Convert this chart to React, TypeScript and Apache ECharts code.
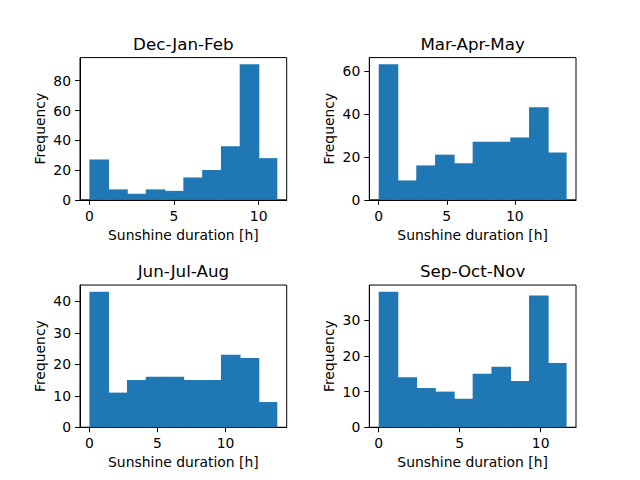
import React, { useEffect, useRef } from "react";
import * as echarts from "echarts";

const titles = ["Dec-Jan-Feb", "Mar-Apr-May", "Jun-Jul-Aug", "Sep-Oct-Nov"];
const djfCounts = [27, 7, 4, 7, 6, 15, 20, 36, 91, 28];
const mamCounts = [63, 9, 16, 21, 17, 27, 27, 29, 43, 22];
const jjaCounts = [43, 11, 15, 16, 16, 15, 15, 23, 22, 8];
const sonCounts = [38, 14, 11, 10, 8, 15, 17, 13, 37, 18];
const djfRange = [0, 11.1];
const mamRange = [0, 13.8];
const jjaRange = [0, 13.8];
const sonRange = [0, 11.6];
const xTicks = [0, 5, 10];
const djfYTicks = [0, 20, 40, 60, 80];
const mamYTicks = [0, 20, 40, 60];
const jjaYTicks = [0, 10, 20, 30, 40];
const sonYTicks = [0, 10, 20, 30];
const xLabel = "Sunshine duration [h]";
const yLabel = "Frequency";

const panels = [
  { counts: djfCounts, range: djfRange, yTicks: djfYTicks },
  { counts: mamCounts, range: mamRange, yTicks: mamYTicks },
  { counts: jjaCounts, range: jjaRange, yTicks: jjaYTicks },
  { counts: sonCounts, range: sonRange, yTicks: sonYTicks },
];

const FONT = "DejaVu Sans";
const BLUE = "#1f77b4";
const gridPos = [
  { left: 80, top: 57.6 },
  { left: 369.3, top: 57.6 },
  { left: 80, top: 285.05 },
  { left: 369.3, top: 285.05 },
];
const GW = 206.7;
const GH = 142.2;

export default function App() {
  const ref = useRef<HTMLDivElement>(null);
  useEffect(() => {
    if (!ref.current) return;
    const chart = echarts.init(ref.current, null, { renderer: "svg" });
    const grid: any[] = [];
    const xAxis: any[] = [];
    const yAxis: any[] = [];
    const series: any[] = [];
    const title: any[] = [];
    panels.forEach((p, i) => {
      const g = gridPos[i];
      grid.push({
        left: g.left,
        top: g.top,
        width: GW,
        height: GH,
        show: true,
        borderColor: "#000",
        borderWidth: 1,
        backgroundColor: "transparent",
        containLabel: false,
        outerBoundsMode: "none",
      });
      const lo = p.range[0];
      const hi = p.range[1];
      const span = hi - lo;
      const nb = p.counts.length;
      const data = p.counts.map((c, k) => [
        lo + (span * k) / nb,
        lo + (span * (k + 1)) / nb,
        c,
        k === nb - 1 ? 0 : 1,
      ]);
      const maxC = Math.max(...p.counts);
      xAxis.push({
        type: "value",
        gridIndex: i,
        min: lo - 0.05 * span,
        max: hi + 0.05 * span,
        splitLine: { show: false },
        axisLine: { show: true, onZero: false, lineStyle: { color: "#000", width: 1 } },
        axisTick: { show: true, length: 5, customValues: xTicks, lineStyle: { color: "#000", width: 1 } },
        axisLabel: {
          customValues: xTicks,
          margin: 9,
          color: "#000",
          fontSize: 13.9,
          fontFamily: FONT,
        },
        name: xLabel,
        nameLocation: "middle",
        nameGap: 28,
        nameTextStyle: { color: "#000", fontSize: 13.9, fontFamily: FONT },
      });
      yAxis.push({
        type: "value",
        gridIndex: i,
        min: 0,
        max: maxC * 1.05,
        splitLine: { show: false },
        axisLine: { show: true, onZero: false, lineStyle: { color: "#000", width: 1 } },
        axisTick: { show: true, length: 5, customValues: p.yTicks, lineStyle: { color: "#000", width: 1 } },
        axisLabel: {
          customValues: p.yTicks,
          margin: 9,
          color: "#000",
          fontSize: 13.9,
          fontFamily: FONT,
        },
        name: yLabel,
        nameLocation: "middle",
        nameGap: 33,
        nameTextStyle: { color: "#000", fontSize: 13.9, fontFamily: FONT },
      });
      series.push({
        type: "custom",
        xAxisIndex: i,
        yAxisIndex: i,
        encode: { x: [0, 1], y: 2 },
        data,
        renderItem: (params: any, api: any) => {
          const p0 = api.coord([api.value(0), 0]);
          const p1 = api.coord([api.value(1), api.value(2)]);
          const extra = api.value(3) ? 0.8 : 0;
          return {
            type: "rect",
            shape: { x: p0[0], y: p1[1], width: p1[0] - p0[0] + extra, height: p0[1] - p1[1] },
            style: { fill: BLUE, stroke: null },
          };
        },
      });
      title.push({
        text: titles[i],
        left: g.left + GW / 2,
        textAlign: "center",
        top: i >= 2 ? 35 + (285.05 - 57.6) : 35,
        padding: 0,
        textStyle: { color: "#000", fontSize: 16.7, fontWeight: "normal", fontFamily: FONT },
      });
    });
    chart.setOption({
      animation: false,
      backgroundColor: "#fff",
      title,
      grid,
      xAxis,
      yAxis,
      series,
    });
    return () => chart.dispose();
  }, []);
  return (
    <div
      ref={ref}
      style={{ position: "fixed", left: 0, top: 0, width: 640, height: 480 }}
    />
  );
}
